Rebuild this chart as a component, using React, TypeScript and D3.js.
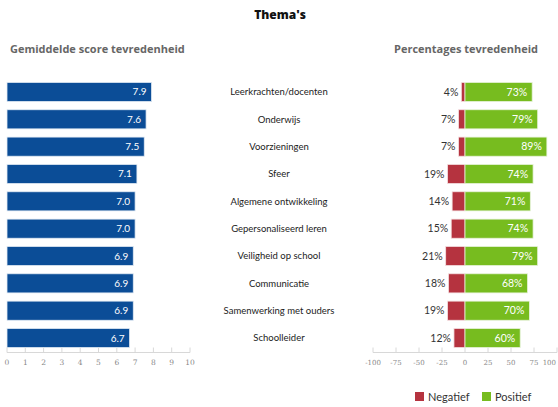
import React from "react";
import * as d3 from "d3";

const categories = [
  "Leerkrachten/docenten",
  "Onderwijs",
  "Voorzieningen",
  "Sfeer",
  "Algemene ontwikkeling",
  "Gepersonaliseerd leren",
  "Veiligheid op school",
  "Communicatie",
  "Samenwerking met ouders",
  "Schoolleider",
];
const scores = [7.9, 7.6, 7.5, 7.1, 7.0, 7.0, 6.9, 6.9, 6.9, 6.7];
const negatief = [4, 7, 7, 19, 14, 15, 21, 18, 19, 12];
const positief = [73, 79, 89, 74, 71, 74, 79, 68, 70, 60];
const scoreTicks = [0, 1, 2, 3, 4, 5, 6, 7, 8, 9, 10];
const pctTicks = [-100, -75, -50, -25, 0, 25, 50, 75, 100];

const W = 558;
const H = 407;
const BLUE = "#0b4d97";
const RED = "#b5333f";
const GREEN = "#77bc1f";
const FONT = "Lato, 'Open Sans', sans-serif";
const TFONT = "'Open Sans', sans-serif";

export default function App() {
  const y = d3.scaleBand<string>().domain(categories).range([78.3, 351.7]).paddingInner(0.3).paddingOuter(0.15);
  const xs = d3.scaleLinear().domain([0, 10]).range([7, 190]);
  const xp = d3.scaleLinear().domain([-100, 100]).range([373, 557]);
  const axisY = 352.5;
  const bw = y.bandwidth();

  return (
    <svg width={W} height={H} style={{ position: "absolute", left: 0, top: 0, background: "#fff" }} fontFamily={FONT}>
      <text x={280} y={19} textAnchor="middle" fontSize={12} fontWeight={800} fill="#111" fontFamily={TFONT}>Thema's</text>
      <text x={10} y={53} fontSize={11} fontWeight={700} fill="#666" fontFamily={TFONT}>Gemiddelde score tevredenheid</text>
      <text x={394} y={53} fontSize={11} fontWeight={700} fill="#666" fontFamily={TFONT}>Percentages tevredenheid</text>

      {/* left bars */}
      {categories.map((c, i) => (
        <g key={"s" + c}>
          <rect x={xs(0)} y={y(c)} width={xs(scores[i]) - xs(0)} height={bw} fill={BLUE} stroke="#e3ebf4" strokeWidth={0.8} />
          <text x={xs(scores[i]) - 5} y={(y(c) as number) + bw / 2} dy="0.35em" textAnchor="end" fontSize={10} fill="#fff">
            {scores[i].toFixed(1)}
          </text>
        </g>
      ))}
      {/* left axis */}
      <line x1={xs(0)} x2={xs(10)} y1={axisY} y2={axisY} stroke="#d8d8d8" />
      {scoreTicks.map((t) => (
        <g key={"st" + t}>
          <line x1={xs(t)} x2={xs(t)} y1={axisY - 5} y2={axisY} stroke="#d8d8d8" />
          <text x={xs(t)} y={365} textAnchor="middle" fontSize={7.5} fill="#888" fontFamily="'DejaVu Serif', serif">{t}</text>
        </g>
      ))}

      {/* category labels */}
      {categories.map((c) => (
        <text key={"c" + c} x={279} y={(y(c) as number) + bw / 2} dy="0.35em" textAnchor="middle" fontSize={9.5} fill="#222">
          {c}
        </text>
      ))}

      {/* right bars */}
      {categories.map((c, i) => (
        <g key={"p" + c}>
          <rect x={xp(-negatief[i])} y={y(c)} width={xp(0) - xp(-negatief[i])} height={bw} fill={RED} stroke="#f4e0e2" strokeWidth={0.8} />
          <rect x={xp(0)} y={y(c)} width={xp(positief[i]) - xp(0)} height={bw} fill={GREEN} stroke="#e8f3dc" strokeWidth={0.8} />
          <text x={xp(-negatief[i]) - 3} y={(y(c) as number) + bw / 2} dy="0.35em" textAnchor="end" fontSize={10.5} fill="#333">
            {negatief[i] + "%"}
          </text>
          <text x={xp(positief[i]) - 5} y={(y(c) as number) + bw / 2} dy="0.35em" textAnchor="end" fontSize={10.5} fill="#fff">
            {positief[i] + "%"}
          </text>
        </g>
      ))}
      {/* right axis */}
      <line x1={xp(-100)} x2={xp(100)} y1={axisY} y2={axisY} stroke="#d8d8d8" />
      {pctTicks.map((t, i) => {
        const last = i === pctTicks.length - 1;
        return (
          <g key={"pt" + t}>
            <line x1={xp(t)} x2={xp(t)} y1={axisY - 5} y2={axisY} stroke="#d8d8d8" />
            <text x={last ? xp(t) - 1 : xp(t)} y={365} textAnchor={last ? "end" : "middle"} fontSize={7} fill="#888" fontFamily="'DejaVu Serif', serif">{t}</text>
          </g>
        );
      })}

      {/* legend */}
      <rect x={415} y={392} width={9} height={9} fill={RED} />
      <text x={428} y={400.5} fontSize={11} fill="#333">Negatief</text>
      <rect x={482} y={392} width={9} height={9} fill={GREEN} />
      <text x={495} y={400.5} fontSize={11} fill="#333">Positief</text>
    </svg>
  );
}
